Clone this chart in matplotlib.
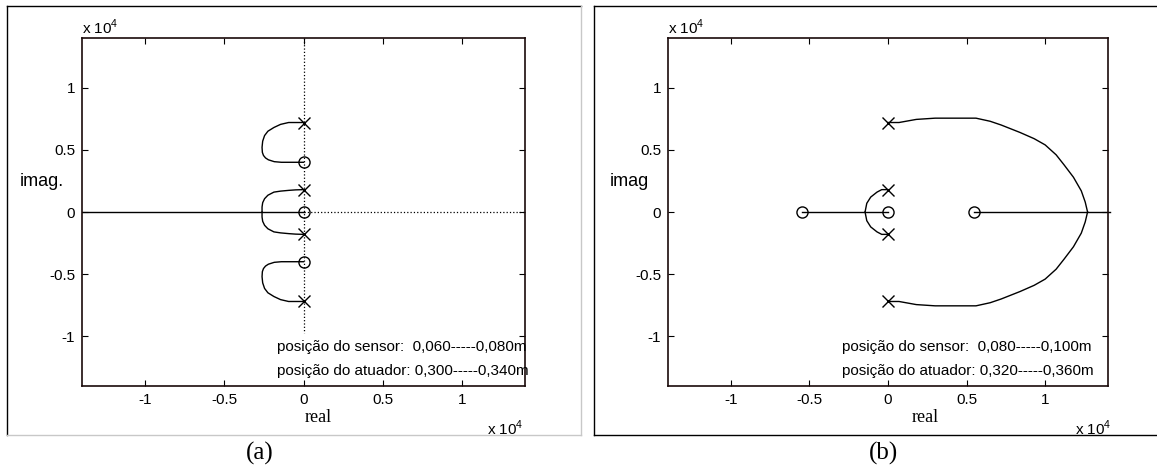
import matplotlib.pyplot as plt
from matplotlib.lines import Line2D
import numpy as np

plt.rcParams['font.family'] = ['Liberation Sans', 'DejaVu Sans']
plt.rcParams['mathtext.fontset'] = 'custom'
plt.rcParams['mathtext.rm'] = 'Liberation Sans'

W, H = 1157, 466
SCALE = 1e4

# ---- data (units of 1e4) ----
ticks = [-1, -0.5, 0, 0.5, 1]
tick_labels = ['-1', '-0.5', '0', '0.5', '1']

# panel (a)
poles_a_re = [0, 0, 0, 0]
poles_a_im = [0.72, 0.18, -0.18, -0.72]
zeros_a_re = [0, 0, 0]
zeros_a_im = [0.40, 0, -0.40]
loop_a_re = [0, -0.05, -0.094, -0.145, -0.187, -0.225, -0.246, -0.258, -0.262, -0.26, -0.253, -0.24, -0.222, -0.185, -0.14, -0.06, 0]
loop_a_im = [0.72, 0.72, 0.72, 0.705, 0.68, 0.65, 0.615, 0.57, 0.52, 0.48, 0.455, 0.435, 0.42, 0.405, 0.40, 0.40, 0.40]
mid_a_re = [0, -0.05, -0.094, -0.145, -0.187, -0.225, -0.246, -0.258, -0.262, -0.262]
mid_a_im = [0.18, 0.178, 0.174, 0.168, 0.16, 0.135, 0.107, 0.075, 0.04, 0]
real_a_re = [-1.4, 0]
dotv_a_im = [1.4, -0.976]
doth_a_re = [0, 1.4]
text_a = ['posição do sensor:  0,060-----0,080m', 'posição do atuador: 0,300-----0,340m']

# panel (b)
poles_b_re = [0, 0, 0, 0]
poles_b_im = [0.72, 0.18, -0.18, -0.72]
zeros_b_re = [-0.55, 0, 0.55]
zeros_b_im = [0, 0, 0]
arc_b_re = [0, 0.07, 0.18, 0.30, 0.45, 0.56, 0.65, 0.72, 0.84, 0.93, 1.00, 1.07, 1.12, 1.18, 1.23, 1.255, 1.27]
arc_b_im = [0.72, 0.72, 0.745, 0.755, 0.755, 0.755, 0.73, 0.70, 0.64, 0.59, 0.54, 0.46, 0.38, 0.28, 0.17, 0.08, 0]
small_b_re = [0, -0.04, -0.07, -0.11, -0.135, -0.146]
small_b_im = [0.18, 0.18, 0.16, 0.12, 0.07, 0]
real_b_segs = [(-0.55, 0), (0.55, 1.41)]
text_b = ['posição do sensor:  0,080-----0,100m', 'posição do atuador: 0,320-----0,360m']


def fx(px):
    return px / W


def fy(py):
    return 1 - py / H


def setup_axes(ax):
    ax.set_xlim(-1.4 * SCALE, 1.4 * SCALE)
    ax.set_ylim(-1.4 * SCALE, 1.4 * SCALE)
    ax.set_xticks([t * SCALE for t in ticks])
    ax.set_yticks([t * SCALE for t in ticks])
    ax.set_xticklabels(tick_labels, fontsize=11)
    ax.set_yticklabels(tick_labels, fontsize=11)
    ax.tick_params(direction='in', length=4, width=0.8, top=True, right=True, pad=5)
    for s in ax.spines.values():
        s.set_linewidth(1.2)
        s.set_color('#1a0a0a')


def mirror(re, im):
    re = np.array(re) * SCALE
    im = np.array(im) * SCALE
    return (re, im), (re, -im)


def draw_markers(ax, pr, pi, zr, zi):
    ax.plot(np.array(pr) * SCALE, np.array(pi) * SCALE, 'x', color='black', ms=8, mew=1.0)
    ax.plot(np.array(zr) * SCALE, np.array(zi) * SCALE, 'o', mfc='none', color='black', ms=8, mew=1.0)


fig = plt.figure(figsize=(W / 100, H / 100), dpi=100)

# outer frames
fig.add_artist(Line2D([fx(7), fx(7)], [fy(6), fy(435)], color='black', lw=1.0))
fig.add_artist(Line2D([fx(7), fx(581)], [fy(6), fy(6)], color='black', lw=1.0))
fig.add_artist(Line2D([fx(581), fx(581)], [fy(6), fy(435)], color='#c8c8c8', lw=1.0))
fig.add_artist(Line2D([fx(7), fx(581)], [fy(435), fy(435)], color='#c8c8c8', lw=1.0))
fig.add_artist(Line2D([fx(594), fx(594)], [fy(6), fy(435)], color='black', lw=1.0))
fig.add_artist(Line2D([fx(594), fx(1157)], [fy(6), fy(6)], color='black', lw=1.0))
fig.add_artist(Line2D([fx(594), fx(1157)], [fy(435), fy(435)], color='black', lw=1.0))

ax1 = fig.add_axes([fx(82), fy(386), (525 - 82) / W, (386 - 38) / H])
ax2 = fig.add_axes([fx(668), fy(386), (1108 - 668) / W, (386 - 38) / H])

# ---- panel (a) ----
setup_axes(ax1)
ax1.plot([0, 0], np.array(dotv_a_im) * SCALE, ':', color='black', lw=0.9)
ax1.plot(np.array(doth_a_re) * SCALE, [0, 0], ':', color='black', lw=0.9)
ax1.plot(np.array(real_a_re) * SCALE, [0, 0], '-', color='black', lw=1.0)
for r, i in mirror(loop_a_re, loop_a_im):
    ax1.plot(r, i, '-', color='black', lw=1.0)
for r, i in mirror(mid_a_re, mid_a_im):
    ax1.plot(r, i, '-', color='black', lw=1.0)
draw_markers(ax1, poles_a_re, poles_a_im, zeros_a_re, zeros_a_im)

# ---- panel (b) ----
setup_axes(ax2)
for a, b in real_b_segs:
    ax2.plot([a * SCALE, b * SCALE], [0, 0], '-', color='black', lw=1.0, clip_on=False)
for r, i in mirror(arc_b_re, arc_b_im):
    ax2.plot(r, i, '-', color='black', lw=1.0)
for r, i in mirror(small_b_re, small_b_im):
    ax2.plot(r, i, '-', color='black', lw=1.0)
draw_markers(ax2, poles_b_re, poles_b_im, zeros_b_re, zeros_b_im)

# ---- texts ----
for ax, ylab, lab_x, real_x, xt_top, xt_bot, txt, tx, cap, cap_x in [
        (ax1, 'imag.', 20, 318, 82, 487, text_a, 277, '(a)', 260),
        (ax2, 'imag', 610, 925, 668, 1075, text_b, 842, '(b)', 884)]:
    fig.text(fx(lab_x), fy(181), ylab, fontsize=13, ha='left', va='center')
    fig.text(fx(real_x), fy(418), 'real', fontsize=13, family='Liberation Serif', ha='center', va='center')
    fig.text(fx(xt_top), fy(27), r'x 10$^{4}$', fontsize=11, ha='left', va='center')
    fig.text(fx(xt_bot), fy(428), r'x 10$^{4}$', fontsize=11, ha='left', va='center')
    fig.text(fx(tx), fy(347), txt[0], fontsize=11, ha='left', va='center')
    fig.text(fx(tx), fy(371), txt[1], fontsize=11, ha='left', va='center')
    fig.text(fx(cap_x), fy(453), cap, fontsize=18, family='Liberation Serif', ha='center', va='center')

fig.savefig('out.png', dpi=100)
